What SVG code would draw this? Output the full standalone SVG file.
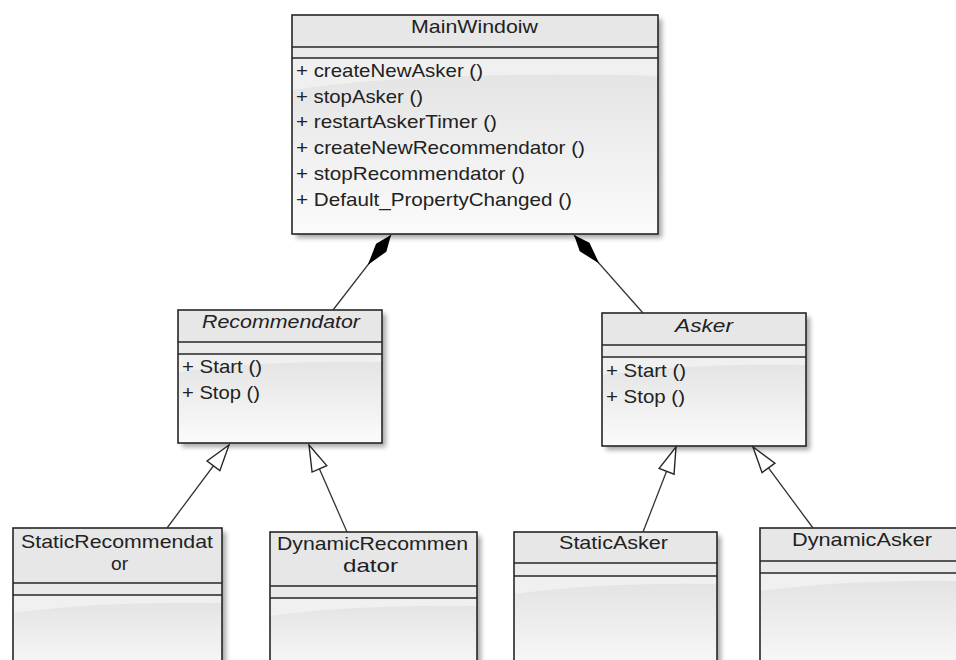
<svg xmlns="http://www.w3.org/2000/svg" width="956" height="660" viewBox="0 0 956 660">
<defs>
<style>
.box{stroke:#262626;stroke-width:1.6;fill:none}
.hdr{fill:#e7e7e7}
.att{fill:#eaeaea}
.body{fill:url(#bodyGrad)}
.gloss{fill:#f3f3f3;opacity:0.8}
.shadow{fill:#000;opacity:0.35;filter:url(#blur)}
.div{stroke:#262626;stroke-width:1.6}
text{font-family:"Liberation Sans",Arial,sans-serif;font-size:18.5px;fill:#222}
.it{font-style:italic}
.conn{stroke:#333;stroke-width:1.3;fill:none}
</style>
<linearGradient id="bodyGrad" x1="0" y1="0" x2="0" y2="1">
<stop offset="0" stop-color="#e2e2e2"/>
<stop offset="1" stop-color="#fbfbfb"/>
</linearGradient>
<filter id="blur" x="-10%" y="-10%" width="130%" height="130%"><feGaussianBlur stdDeviation="2.5"/></filter>
<marker id="diamond" viewBox="-40 -8 42 16" markerWidth="42" markerHeight="16" refX="0" refY="0" orient="auto" markerUnits="userSpaceOnUse">
<path d="M0,0 L-16,-6.5 L-38,0 L-16,6.5 Z" fill="#000"/>
</marker>
<marker id="tri" viewBox="-28 -10 30 20" markerWidth="30" markerHeight="20" refX="0" refY="0" orient="auto" markerUnits="userSpaceOnUse">
<path d="M0,0 L-26,-8 L-26,8 Z" fill="#fff" stroke="#262626" stroke-width="1.4" stroke-linejoin="miter"/>
</marker>
</defs>
<rect width="956" height="660" fill="#fff"/>

<g id="MainWindoiw">
<rect class="shadow" x="296" y="19" width="366" height="219"/>
<rect class="hdr" x="292" y="15" width="366" height="32"/>
<rect class="att" x="292" y="47" width="366" height="11"/>
<rect class="body" x="292" y="58" width="366" height="176"/>
<path class="gloss" d="M292,58 L292,90 Q420,70 658,76 L658,58 Z"/>
<rect class="box" x="292" y="15" width="366" height="219"/>
<line class="div" x1="292" y1="47" x2="658" y2="47"/>
<line class="div" x1="292" y1="58" x2="658" y2="58"/>
<text x="411" y="33" textLength="127" lengthAdjust="spacingAndGlyphs">MainWindoiw</text>
<text x="296" y="77" textLength="187" lengthAdjust="spacingAndGlyphs">+ createNewAsker ()</text>
<text x="296" y="103" textLength="127" lengthAdjust="spacingAndGlyphs">+ stopAsker ()</text>
<text x="296" y="128" textLength="201" lengthAdjust="spacingAndGlyphs">+ restartAskerTimer ()</text>
<text x="296" y="154" textLength="289" lengthAdjust="spacingAndGlyphs">+ createNewRecommendator ()</text>
<text x="296" y="180" textLength="229" lengthAdjust="spacingAndGlyphs">+ stopRecommendator ()</text>
<text x="296" y="206" textLength="276" lengthAdjust="spacingAndGlyphs">+ Default_PropertyChanged ()</text>
</g>

<g id="Recommendator">
<rect class="shadow" x="182" y="314" width="204" height="133"/>
<rect class="hdr" x="178" y="310" width="204" height="32"/>
<rect class="att" x="178" y="342" width="204" height="12"/>
<rect class="body" x="178" y="354" width="204" height="89"/>
<path class="gloss" d="M178,354 L178,372 Q260,360 382,362 L382,354 Z"/>
<rect class="box" x="178" y="310" width="204" height="133"/>
<line class="div" x1="178" y1="342" x2="382" y2="342"/>
<line class="div" x1="178" y1="354" x2="382" y2="354"/>
<text class="it" x="202" y="328" textLength="158" lengthAdjust="spacingAndGlyphs">Recommendator</text>
<text x="182" y="373" textLength="80" lengthAdjust="spacingAndGlyphs">+ Start ()</text>
<text x="182" y="399" textLength="78" lengthAdjust="spacingAndGlyphs">+ Stop ()</text>
</g>

<g id="Asker">
<rect class="shadow" x="606" y="317" width="204" height="133"/>
<rect class="hdr" x="602" y="313" width="204" height="32"/>
<rect class="att" x="602" y="345" width="204" height="12"/>
<rect class="body" x="602" y="357" width="204" height="89"/>
<path class="gloss" d="M602,357 L602,375 Q690,363 806,365 L806,357 Z"/>
<rect class="box" x="602" y="313" width="204" height="133"/>
<line class="div" x1="602" y1="345" x2="806" y2="345"/>
<line class="div" x1="602" y1="357" x2="806" y2="357"/>
<text class="it" x="675" y="332" textLength="58" lengthAdjust="spacingAndGlyphs">Asker</text>
<text x="606" y="377" textLength="80" lengthAdjust="spacingAndGlyphs">+ Start ()</text>
<text x="606" y="403" textLength="79" lengthAdjust="spacingAndGlyphs">+ Stop ()</text>
</g>

<g id="StaticRecommendator">
<rect class="shadow" x="17" y="532" width="209" height="150"/>
<rect class="hdr" x="13" y="528" width="209" height="55"/>
<rect class="att" x="13" y="583" width="209" height="12"/>
<rect class="body" x="13" y="595" width="209" height="85"/>
<path class="gloss" d="M13,595 L13,613 Q100,601 222,603 L222,595 Z"/>
<rect class="box" x="13" y="528" width="209" height="152"/>
<line class="div" x1="13" y1="583" x2="222" y2="583"/>
<line class="div" x1="13" y1="595" x2="222" y2="595"/>
<text x="21" y="548" textLength="192" lengthAdjust="spacingAndGlyphs">StaticRecommendat</text>
<text x="111" y="570" textLength="17" lengthAdjust="spacingAndGlyphs">or</text>
</g>

<g id="DynamicRecommendator">
<rect class="shadow" x="274" y="536" width="207" height="150"/>
<rect class="hdr" x="270" y="532" width="207" height="54"/>
<rect class="att" x="270" y="586" width="207" height="12"/>
<rect class="body" x="270" y="598" width="207" height="82"/>
<path class="gloss" d="M270,598 L270,616 Q360,604 477,606 L477,598 Z"/>
<rect class="box" x="270" y="532" width="207" height="152"/>
<line class="div" x1="270" y1="586" x2="477" y2="586"/>
<line class="div" x1="270" y1="598" x2="477" y2="598"/>
<text x="277" y="550" textLength="191" lengthAdjust="spacingAndGlyphs">DynamicRecommen</text>
<text x="343" y="572" textLength="55" lengthAdjust="spacingAndGlyphs">dator</text>
</g>

<g id="StaticAsker">
<rect class="shadow" x="518" y="536" width="203" height="150"/>
<rect class="hdr" x="514" y="532" width="203" height="31"/>
<rect class="att" x="514" y="563" width="203" height="13"/>
<rect class="body" x="514" y="576" width="203" height="104"/>
<path class="gloss" d="M514,576 L514,594 Q600,582 717,584 L717,576 Z"/>
<rect class="box" x="514" y="532" width="203" height="152"/>
<line class="div" x1="514" y1="563" x2="717" y2="563"/>
<line class="div" x1="514" y1="576" x2="717" y2="576"/>
<text x="559" y="549" textLength="109" lengthAdjust="spacingAndGlyphs">StaticAsker</text>
</g>

<g id="DynamicAsker">
<rect class="shadow" x="764" y="532" width="204" height="150"/>
<rect class="hdr" x="760" y="528" width="204" height="33"/>
<rect class="att" x="760" y="561" width="204" height="12"/>
<rect class="body" x="760" y="573" width="204" height="107"/>
<path class="gloss" d="M760,573 L760,591 Q850,579 964,581 L964,573 Z"/>
<rect class="box" x="760" y="528" width="204" height="152"/>
<line class="div" x1="760" y1="561" x2="964" y2="561"/>
<line class="div" x1="760" y1="573" x2="964" y2="573"/>
<text x="792" y="546" textLength="140" lengthAdjust="spacingAndGlyphs">DynamicAsker</text>
</g>

<g id="connectors">
<line class="conn" x1="333" y1="310" x2="391" y2="235" marker-end="url(#diamond)"/>
<line class="conn" x1="643" y1="313" x2="574" y2="235" marker-end="url(#diamond)"/>
<line class="conn" x1="167" y1="528" x2="229" y2="445" marker-end="url(#tri)"/>
<line class="conn" x1="347" y1="532" x2="309" y2="445" marker-end="url(#tri)"/>
<line class="conn" x1="643" y1="532" x2="676" y2="447" marker-end="url(#tri)"/>
<line class="conn" x1="813" y1="528" x2="753" y2="447" marker-end="url(#tri)"/>
</g>
</svg>
